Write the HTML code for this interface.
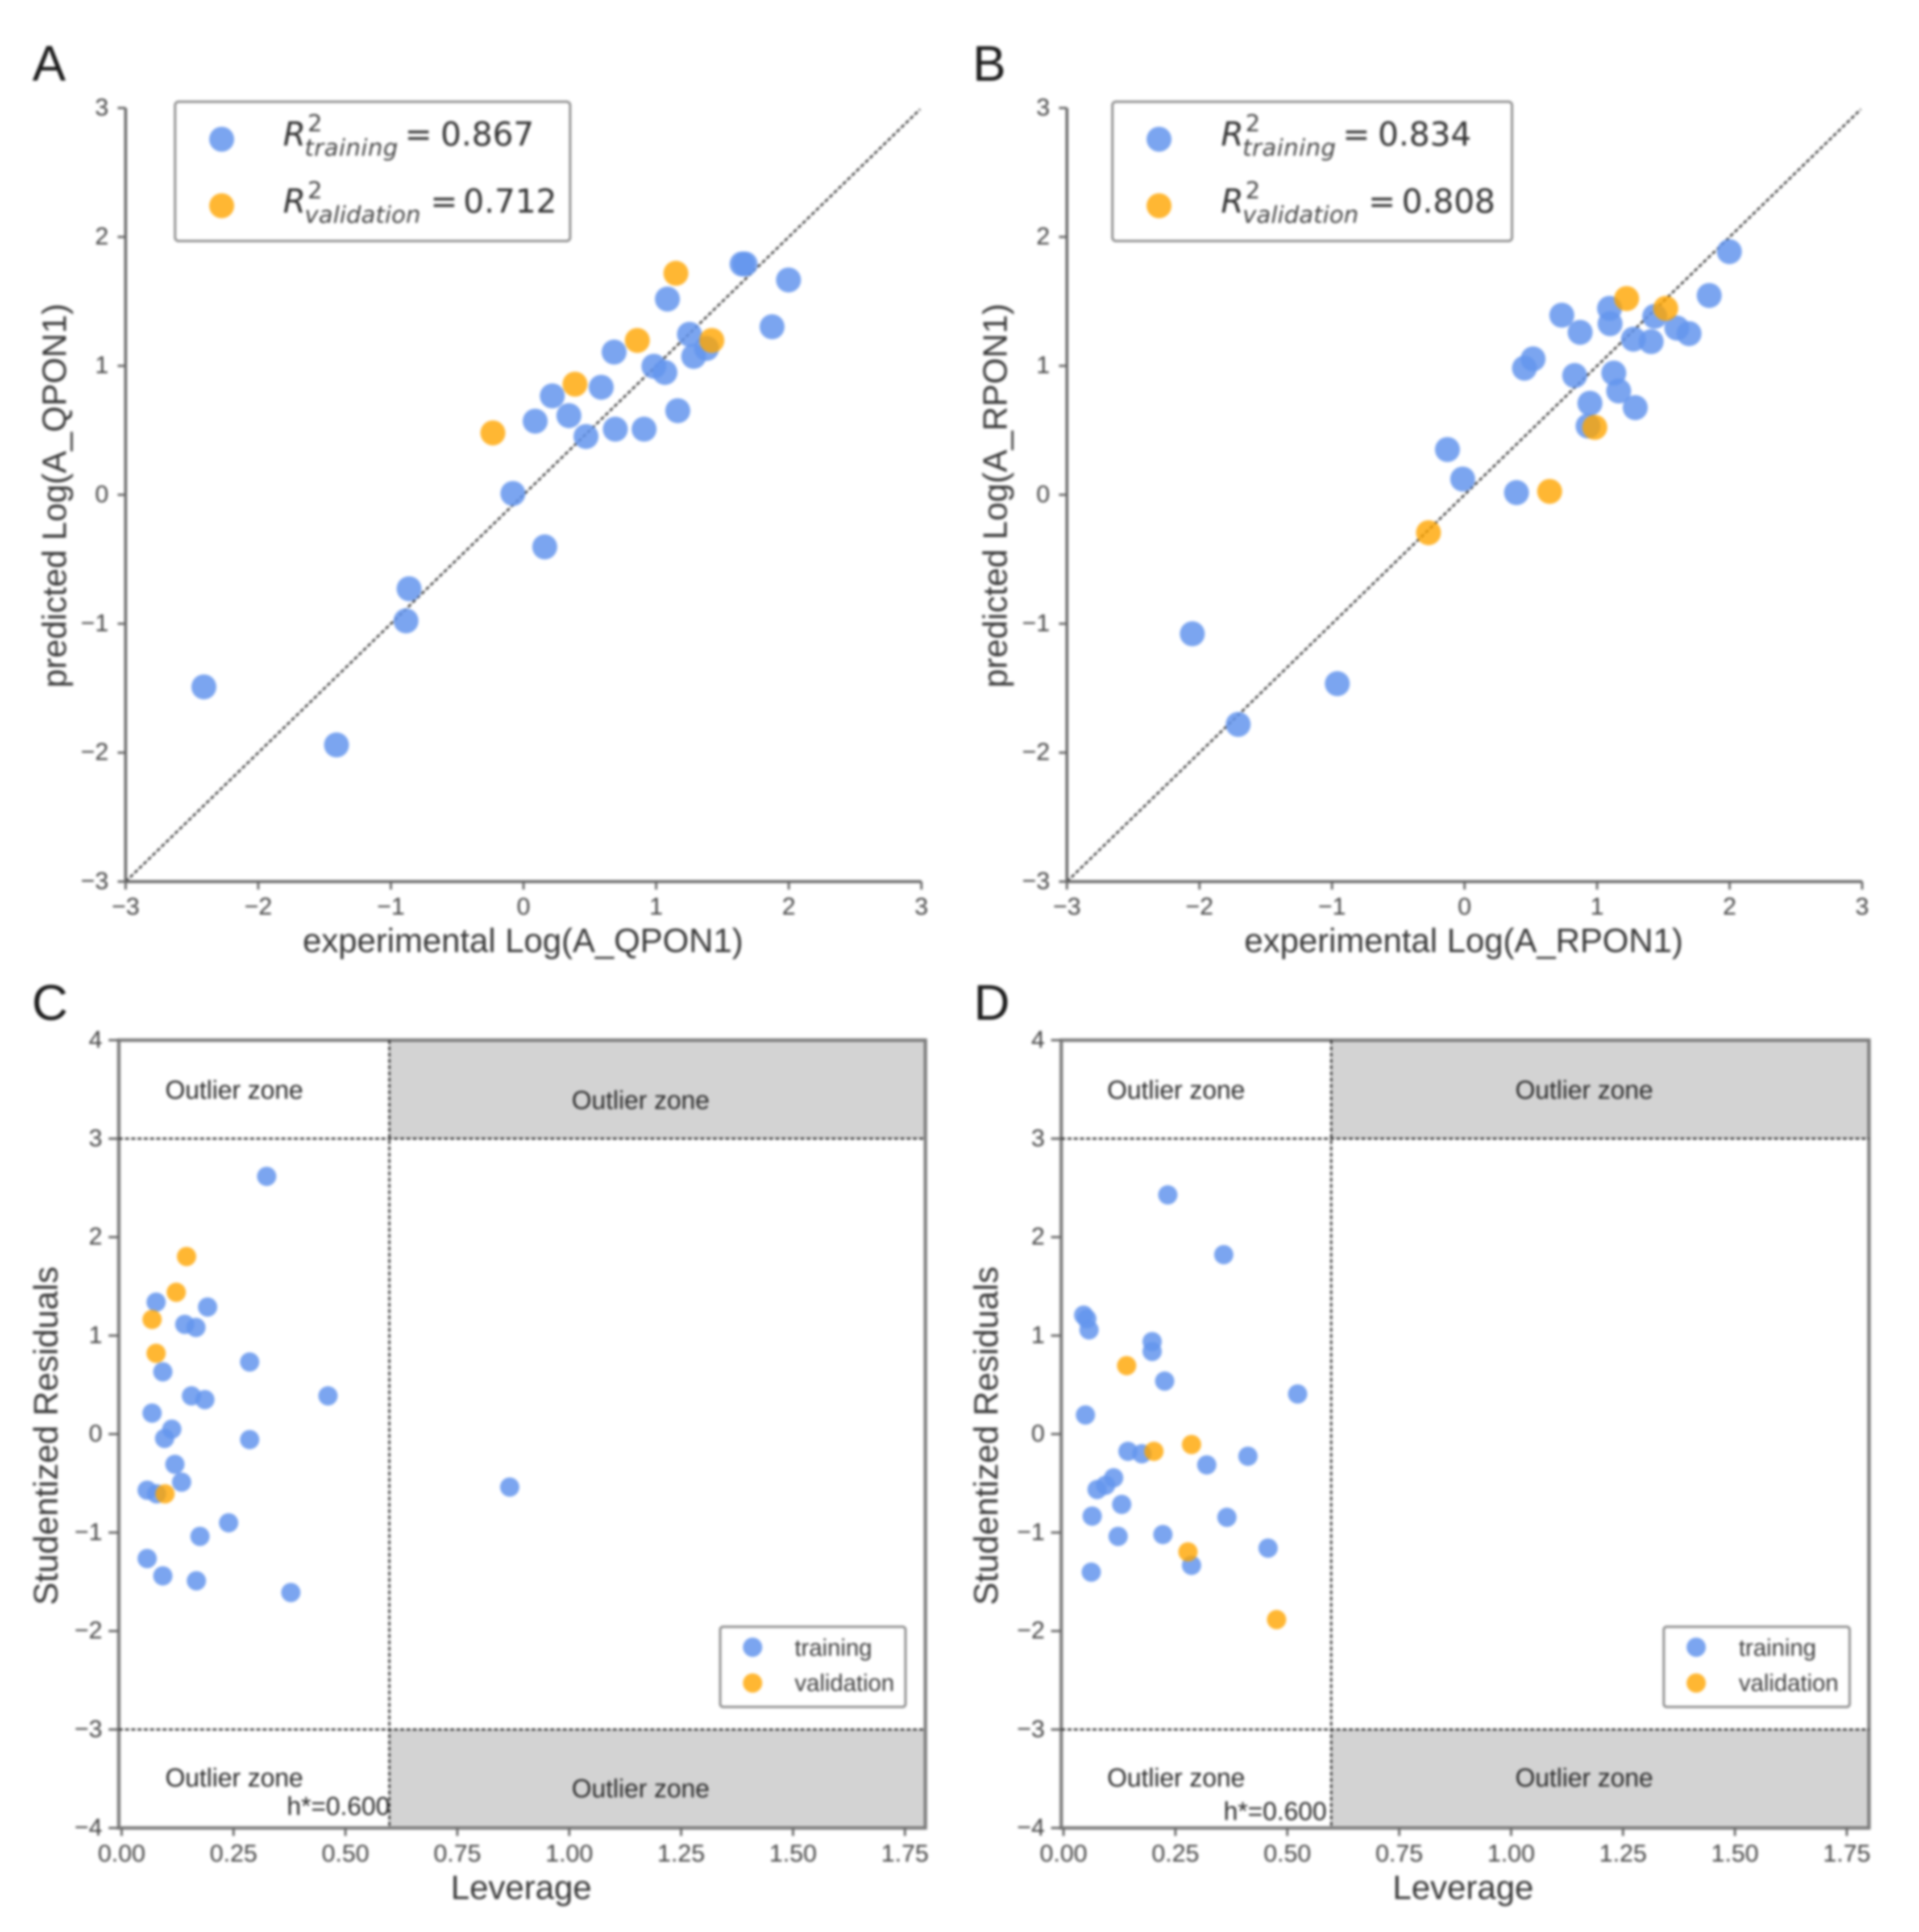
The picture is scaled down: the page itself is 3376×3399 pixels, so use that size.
<!DOCTYPE html>
<html lang="en">
<head>
<meta charset="utf-8">
<title>QSAR model scatter and Williams plots</title>
<style>
html,body{margin:0;padding:0;background:#fff;}
svg{display:block;filter:blur(2.4px);}
text{font-family:"Liberation Sans",Arial,sans-serif;fill:#3a3a3a;}
.tick{font-size:43px;fill:#444;}
.axis{font-size:59px;fill:#383838;}
.letter{font-size:88px;fill:#1c1c1c;}
.zone{font-size:45px;fill:#2a2a2a;}
.leg{font-size:41.5px;fill:#3c3c3c;}
.m{font-family:"DejaVu Sans",sans-serif;font-size:57.5px;fill:#333;}
.ms{font-family:"DejaVu Sans",sans-serif;font-size:41px;fill:#444;}
.i{font-style:italic;}
</style>
</head>
<body>
<svg id="fig" xmlns="http://www.w3.org/2000/svg" width="3376" height="3399" viewBox="0 0 3376 3399">
<rect width="3376" height="3399" fill="#fff"/>

<g id="panel-a"></g>
<g id="panel-b"></g>
<g id="panel-c"></g>
<g id="panel-d"></g>

<text class="letter" x="57" y="142">A</text>
<text class="letter" x="1711" y="142">B</text>
<text class="letter" x="56" y="1794">C</text>
<text class="letter" x="1713" y="1794">D</text>

<text class="axis" x="920" y="1675" text-anchor="middle" textLength="775" lengthAdjust="spacingAndGlyphs">experimental Log(A_QPON1)</text>
<text class="axis" x="2575" y="1675" text-anchor="middle" textLength="772" lengthAdjust="spacingAndGlyphs">experimental Log(A_RPON1)</text>
<text class="axis" transform="translate(116 872) rotate(-90)" text-anchor="middle" textLength="676" lengthAdjust="spacingAndGlyphs">predicted Log(A_QPON1)</text>
<text class="axis" transform="translate(1771 872) rotate(-90)" text-anchor="middle" textLength="676" lengthAdjust="spacingAndGlyphs">predicted Log(A_RPON1)</text>
<text class="axis" x="917" y="3341" text-anchor="middle" textLength="248" lengthAdjust="spacingAndGlyphs">Leverage</text>
<text class="axis" x="2574" y="3341" text-anchor="middle" textLength="248" lengthAdjust="spacingAndGlyphs">Leverage</text>
<text class="axis" transform="translate(101 2526) rotate(-90)" text-anchor="middle" textLength="596" lengthAdjust="spacingAndGlyphs">Studentized Residuals</text>
<text class="axis" transform="translate(1755 2526) rotate(-90)" text-anchor="middle" textLength="596" lengthAdjust="spacingAndGlyphs">Studentized Residuals</text>

<g>
  <rect x="308" y="179" width="695" height="245" rx="6" fill="#fff" stroke="#8a8a8a" stroke-width="4"/>
  <circle cx="390" cy="245" r="22" fill="#6495ED" opacity=".85"/>
  <circle cx="390" cy="362" r="22" fill="#FFA500" opacity=".8"/>
  <g>
    <text class="m i" x="498" y="256">R</text><text class="ms" x="541" y="231">2</text><text class="ms i" x="536" y="274" textLength="164">training</text><text class="m" x="712" y="256">=</text><text class="m" x="775" y="256">0.867</text>
  </g>
  <g>
    <text class="m i" x="498" y="374">R</text><text class="ms" x="541" y="349">2</text><text class="ms i" x="536" y="392" textLength="204">validation</text><text class="m" x="757" y="374">=</text><text class="m" x="815" y="374">0.712</text>
  </g>
</g>
<g>
  <rect x="1957" y="179" width="703" height="245" rx="6" fill="#fff" stroke="#8a8a8a" stroke-width="4"/>
  <circle cx="2039" cy="245" r="22" fill="#6495ED" opacity=".85"/>
  <circle cx="2039" cy="362" r="22" fill="#FFA500" opacity=".8"/>
  <g>
    <text class="m i" x="2148" y="256">R</text><text class="ms" x="2191" y="231">2</text><text class="ms i" x="2186" y="274" textLength="164">training</text><text class="m" x="2362" y="256">=</text><text class="m" x="2424" y="256">0.834</text>
  </g>
  <g>
    <text class="m i" x="2148" y="374">R</text><text class="ms" x="2191" y="349">2</text><text class="ms i" x="2186" y="392" textLength="204">validation</text><text class="m" x="2407" y="374">=</text><text class="m" x="2466" y="374">0.808</text>
  </g>
</g>

<g>
  <rect x="1267" y="2862" width="326" height="141" rx="5" fill="#fff" stroke="#8a8a8a" stroke-width="4"/>
  <circle cx="1324" cy="2898" r="17" fill="#6495ED" opacity=".85"/>
  <circle cx="1324" cy="2961" r="17" fill="#FFA500" opacity=".8"/>
  <text class="leg" x="1398" y="2913">training</text>
  <text class="leg" x="1398" y="2975">validation</text>
</g>
<g>
  <rect x="2927" y="2862" width="327" height="141" rx="5" fill="#fff" stroke="#8a8a8a" stroke-width="4"/>
  <circle cx="2984" cy="2898" r="17" fill="#6495ED" opacity=".85"/>
  <circle cx="2984" cy="2961" r="17" fill="#FFA500" opacity=".8"/>
  <text class="leg" x="3059" y="2913">training</text>
  <text class="leg" x="3059" y="2975">validation</text>
</g>

<g>
  <text class="zone" x="412" y="1933" text-anchor="middle">Outlier zone</text>
  <text class="zone" x="1127" y="1951" text-anchor="middle">Outlier zone</text>
  <text class="zone" x="412" y="3143" text-anchor="middle">Outlier zone</text>
  <text class="zone" x="1127" y="3162" text-anchor="middle">Outlier zone</text>
  <text class="zone" x="686" y="3193" text-anchor="end">h*=0.600</text>
</g>
<g>
  <text class="zone" x="2069" y="1933" text-anchor="middle">Outlier zone</text>
  <text class="zone" x="2787" y="1933" text-anchor="middle">Outlier zone</text>
  <text class="zone" x="2069" y="3143" text-anchor="middle">Outlier zone</text>
  <text class="zone" x="2787" y="3143" text-anchor="middle">Outlier zone</text>
  <text class="zone" x="2334" y="3202" text-anchor="end">h*=0.600</text>
</g>
</svg>

<script>
// ---- chart data ----
const regressionTicks = [-3, -2, -1, 0, 1, 2, 3];
const leverageTicks = [0, 0.25, 0.5, 0.75, 1, 1.25, 1.5, 1.75];
const residualTicks = [-4, -3, -2, -1, 0, 1, 2, 3, 4];
const leverageTickLabels = ["0.00", "0.25", "0.50", "0.75", "1.00", "1.25", "1.50", "1.75"];
const residualLimits = [-3, 3];
const leverageThreshold = 0.6;

const aTrainX = [-2.41,-1.41,-0.886,-0.863,0.16,-0.08,0.088,0.217,0.342,0.471,0.586,0.683,0.692,0.909,1.163,0.983,1.066,1.085,1.251,1.283,1.38,1.648,1.671,1.874,1.998];
const aTrainY = [-1.49,-1.94,-0.978,-0.729,-0.404,0.01,0.571,0.767,0.614,0.452,0.834,1.107,0.509,0.509,0.652,0.997,0.949,1.518,1.245,1.073,1.135,1.79,1.79,1.303,1.666];
const aValX = [-0.231,0.388,0.858,1.149,1.42];
const aValY = [0.48,0.858,1.197,1.718,1.197];

const bTrainX = [-2.054,-1.708,-0.96,-0.129,-0.014,0.392,0.452,0.517,0.734,0.872,0.831,0.946,0.932,1.094,1.098,1.126,1.163,1.274,1.288,1.408,1.435,1.602,1.694,1.846,1.998];
const bTrainY = [-1.078,-1.781,-1.465,0.351,0.122,0.017,0.982,1.054,1.393,1.26,0.925,0.71,0.533,1.446,1.327,0.944,0.805,1.207,0.676,1.188,1.384,1.293,1.25,1.546,1.886];
const bValX = [-0.272,0.642,0.983,1.223,1.518];
const bValY = [-0.294,0.026,0.523,1.522,1.446];

const cTrainX = [0.324,0.077,0.192,0.141,0.166,0.286,0.092,0.461,0.156,0.186,0.068,0.112,0.096,0.286,0.119,0.134,0.057,0.078,0.867,0.239,0.175,0.057,0.092,0.167,0.378];
const cTrainY = [2.617,1.34,1.29,1.114,1.083,0.732,0.632,0.388,0.388,0.35,0.213,0.05,-0.044,-0.056,-0.307,-0.488,-0.57,-0.607,-0.538,-0.901,-1.039,-1.264,-1.44,-1.49,-1.609];
const cValX = [0.145,0.122,0.068,0.077,0.097];
const cValY = [1.803,1.44,1.164,0.82,-0.607];

const dTrainX = [0.233,0.358,0.045,0.052,0.057,0.198,0.198,0.226,0.523,0.049,0.144,0.175,0.412,0.32,0.112,0.094,0.075,0.13,0.064,0.365,0.122,0.222,0.457,0.286,0.062];
const dTrainY = [2.429,1.822,1.208,1.17,1.058,0.939,0.839,0.538,0.407,0.194,-0.175,-0.2,-0.225,-0.313,-0.444,-0.52,-0.563,-0.714,-0.833,-0.845,-1.039,-1.02,-1.158,-1.333,-1.402];
const dValX = [0.141,0.202,0.286,0.278,0.476];
const dValY = [0.695,-0.175,-0.106,-1.196,-1.884];

// ---- drawing helpers ----
const NS = "http://www.w3.org/2000/svg";
const fmt = v => String(v).replace("-", "\u2212");

function mk(parent, tag, attrs) {
  const el = document.createElementNS(NS, tag);
  for (const k in attrs) el.setAttribute(k, attrs[k]);
  
  parent.appendChild(el);
  return el;
}

function linear(d0, d1, r0, r1) {
  return v => r0 + (v - d0) * (r1 - r0) / (d1 - d0);
}

function dots(g, xs, ys, sx, sy, r, fill, opacity, name) {
  xs.forEach((x, i) => {
    const c = mk(g, "circle", { cx: sx(x), cy: sy(ys[i]), r: r, fill: fill, opacity: opacity });
    
  });
}

function ticksX(g, ticks, labels, sx, y0, len, labelY, name) {
  ticks.forEach((t, i) => {
    const l = mk(g, "line", { x1: sx(t), x2: sx(t), y1: y0, y2: y0 + len, stroke: "#666", "stroke-width": 4 });
    
    const s = mk(g, "text", { x: sx(t), y: labelY, "text-anchor": "middle", class: "tick" });
    
    s.textContent = labels[i];
  });
}

function ticksY(g, ticks, labels, sy, x0, len, labelX, name) {
  ticks.forEach((t, i) => {
    const l = mk(g, "line", { x1: x0 - len, x2: x0, y1: sy(t), y2: sy(t), stroke: "#666", "stroke-width": 4 });
    
    const s = mk(g, "text", { x: labelX, y: sy(t) + 13, "text-anchor": "end", class: "tick" });
    
    s.textContent = labels[i];
  });
}

function regressionPanel(id, left, right, tx, ty, vx, vy, prefix) {
  const g = document.getElementById(id);
  const top = 190, bottom = 1551;
  const sx = linear(-3, 3, left, right);
  const sy = linear(-3, 3, bottom, top);
  const labels = regressionTicks.map(fmt);

  const diag = mk(g, "line", { x1: sx(-3), y1: sy(-3), x2: sx(2.99), y2: sy(2.99), stroke: "#2a2a2a", "stroke-width": 3.5, "stroke-dasharray": "7 4" });
  

  const spineL = mk(g, "line", { x1: left, x2: left, y1: top, y2: bottom + 2, stroke: "#666", "stroke-width": 5 });
  
  const spineB = mk(g, "line", { x1: left - 2, x2: right, y1: bottom, y2: bottom, stroke: "#666", "stroke-width": 5 });
  

  ticksX(g, regressionTicks, labels, sx, bottom, 14, 1609, prefix + '-x');
  ticksY(g, regressionTicks, labels, sy, left, 14, left - 30, prefix + '-y');

  dots(g, tx, ty, sx, sy, 22, "#6495ED", 0.85, prefix + '-training-point');
  dots(g, vx, vy, sx, sy, 22, "#FFA500", 0.8, prefix + '-validation-point');
}

function williamsPanel(id, left, zero, right, tx, ty, vx, vy, prefix) {
  const g = document.getElementById(id);
  const top = 1830, bottom = 3216;
  const sx = linear(0, 1.75, zero, zero + 1378);
  const sy = linear(-4, 4, bottom, top);
  const h = sx(leverageThreshold) - 1.5;
  const hiY = sy(residualLimits[1]), loY = sy(residualLimits[0]);

  const zt = mk(g, "rect", { x: h, y: top, width: right - h, height: hiY - top, fill: "#D3D3D3" });
  
  const zb = mk(g, "rect", { x: h, y: loY, width: right - h, height: bottom - loY, fill: "#D3D3D3" });
  

  const frame = mk(g, "rect", { x: left, y: top, width: right - left, height: bottom - top, fill: "none", stroke: "#7c7c7c", "stroke-width": 6 });
  

  residualLimits.forEach(v => {
    const l = mk(g, "line", { x1: left, x2: right, y1: sy(v), y2: sy(v), stroke: "#2a2a2a", "stroke-width": 3.5, "stroke-dasharray": "7 4" });
    
  });
  const vl = mk(g, "line", { x1: h, x2: h, y1: top, y2: bottom, stroke: "#2a2a2a", "stroke-width": 3.5, "stroke-dasharray": "7 4" });
  

  ticksX(g, leverageTicks, leverageTickLabels, sx, bottom, 14, 3275, prefix + '-x');
  ticksY(g, residualTicks, residualTicks.map(fmt), sy, left, 18, left - 29, prefix + '-y');

  dots(g, tx, ty, sx, sy, 17, "#6495ED", 0.85, prefix + '-training-point');
  dots(g, vx, vy, sx, sy, 17, "#FFA500", 0.8, prefix + '-validation-point');
}

regressionPanel("panel-a", 221, 1621, aTrainX, aTrainY, aValX, aValY, "a");
regressionPanel("panel-b", 1877, 3276, bTrainX, bTrainY, bValX, bValY, "b");
williamsPanel("panel-c", 209, 214, 1628, cTrainX, cTrainY, cValX, cValY, "c");
williamsPanel("panel-d", 1867, 1871, 3288, dTrainX, dTrainY, dValX, dValY, "d");
</script>
</body>
</html>
